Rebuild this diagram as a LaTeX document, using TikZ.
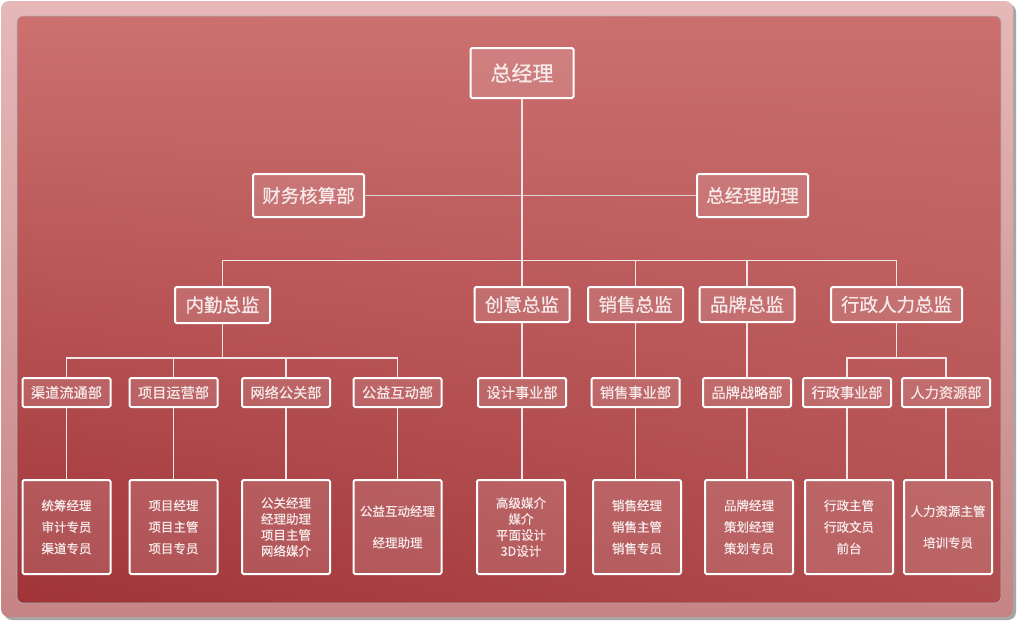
\documentclass[tikz,border=0pt]{standalone}
\usepackage{fontspec}
\newfontfamily\cjk[FakeBold=0.6]{Noto Sans CJK SC}
\usepackage{tikz}
\usetikzlibrary{calc,shadings}
\definecolor{frameTop}{RGB}{230,184,184}
\definecolor{frameBot}{RGB}{198,132,132}
\definecolor{panelUL}{RGB}{204,112,112}
\definecolor{panelUR}{RGB}{202,110,110}
\definecolor{panelLL}{RGB}{160,52,56}
\definecolor{panelLR}{RGB}{176,76,78}
\definecolor{boxText}{RGB}{247,234,234}
\definecolor{linkCol}{RGB}{244,230,230}
\tikzstyle{post} = [draw=white, line width=2pt, rounded corners=1.5pt, fill=white, fill opacity=0.13,
    text opacity=1, text=boxText, inner sep=0pt]

\begin{document}
\begin{tikzpicture}[x=1pt,y=-1pt]

\tikzstyle{boss} = [post, minimum width=103pt, minimum height=50pt, font=\cjk\fontsize{21}{24}\selectfont]
\tikzstyle{aide} = [post, minimum width=111pt, minimum height=43pt, font=\cjk\fontsize{18.5}{22}\selectfont]
\tikzstyle{chief} = [post, minimum width=95pt, minimum height=35pt, font=\cjk\fontsize{18.5}{22}\selectfont]
\tikzstyle{dept} = [post, minimum width=88pt, minimum height=29pt, font=\cjk\fontsize{14.2}{17}\selectfont]
\tikzstyle{staff} = [post, minimum width=88pt, minimum height=94pt, align=center, font=\cjk\fontsize{12.5}{21.5}\selectfont]
\tikzstyle{link} = [draw=linkCol, line width=1.5pt]

\useasboundingbox (0,0) rectangle (1017,621);
\fill[black!35, rounded corners=8pt] (4,4) rectangle (1016,620);
\shade[top color=frameTop, bottom color=frameBot, rounded corners=8pt] (1,1) rectangle (1013,617);
\shade[upper left=panelUL, upper right=panelUR, lower left=panelLL, lower right=panelLR,
    rounded corners=6pt] (17,16) rectangle (1001,603);
\draw[black!30, line width=.6pt, rounded corners=6pt] (17,16) rectangle (1001,603);

\node[boss] (gm) at (522,73) {总经理};
\node[aide] (cw) at (308.5,195.5) {财务核算部};
\node[aide] (zl) at (752.5,195.5) {总经理助理};

\node[chief, minimum height=36pt] (nqzj) at (222.5,305) {内勤总监};
\node[chief] (cyzj) at (522,304.5) {创意总监};
\node[chief] (xszj) at (635.5,304.5) {销售总监};
\node[chief] (ppzj) at (747,304.5) {品牌总监};
\node[chief, minimum width=131pt] (xzzj) at (896.5,304.5) {行政人力总监};

\node[dept] (qd) at (66.5,392.5) {渠道流通部};
\node[dept] (xm) at (173.5,392.5) {项目运营部};
\node[dept] (wl) at (286,392.5) {网络公关部};
\node[dept] (gy) at (397.5,392.5) {公益互动部};
\node[dept] (sj) at (522,392.5) {设计事业部};
\node[dept] (xs) at (635.5,392.5) {销售事业部};
\node[dept] (pp) at (747,392.5) {品牌战略部};
\node[dept] (xz) at (847,392.5) {行政事业部};
\node[dept] (rl) at (946,392.5) {人力资源部};

\node[staff] (qdStaff) at (66.5,527) {统筹经理\\审计专员\\渠道专员};
\node[staff] (xmStaff) at (173.5,527) {项目经理\\项目主管\\项目专员};
\node[staff, font=\cjk\fontsize{12.5}{16}\selectfont] (wlStaff) at (286,527) {公关经理\\经理助理\\项目主管\\网络媒介};
\node[staff, font=\cjk\fontsize{12.5}{31.5}\selectfont] (gyStaff) at (397.5,527) {公益互动经理\\经理助理};
\node[staff, font=\cjk\fontsize{12.5}{16}\selectfont] (sjStaff) at (521,527) {高级媒介\\媒介\\平面设计\\3D设计};
\node[staff] (xsStaff) at (637,527) {销售经理\\销售主管\\销售专员};
\node[staff] (ppStaff) at (749,527) {品牌经理\\策划经理\\策划专员};
\node[staff] (xzStaff) at (849,527) {行政主管\\行政文员\\前台};
\node[staff, font=\cjk\fontsize{12.5}{31.5}\selectfont] (rlStaff) at (948,527) {人力资源主管\\培训专员};

\coordinate (busMid) at (522,260.5);
\coordinate (nqBus) at (222.5,358);
\coordinate (xzBus) at (896.5,358);

\draw[link, line width=1pt, draw=linkCol!80!gray] (cw.east) -- (zl.west);
\draw[link] (gm.south) -- (cyzj.north);
\draw[link] (nqzj.north) |- (busMid) -| (xzzj.north);
\draw[link] (xszj.north) -- (xszj.north |- busMid);
\draw[link] (ppzj.north) -- (ppzj.north |- busMid);

\draw[link] (nqzj.south) -- (nqBus);
\draw[link] (qd.north) |- (nqBus) -| (gy.north);
\draw[link] (xm.north) -- (xm.north |- nqBus);
\draw[link] (wl.north) -- (wl.north |- nqBus);
\draw[link] (xzzj.south) -- (xzBus);
\draw[link] (xz.north) |- (xzBus) -| (rl.north);

\draw[link] (cyzj.south) -- (sj.north);
\draw[link] (xszj.south) -- (xs.north);
\draw[link] (ppzj.south) -- (pp.north);

\draw[link] (qd.south) -- (qd.south |- qdStaff.north);
\draw[link] (xm.south) -- (xm.south |- xmStaff.north);
\draw[link] (wl.south) -- (wl.south |- wlStaff.north);
\draw[link] (gy.south) -- (gy.south |- gyStaff.north);
\draw[link] (sj.south) -- (sj.south |- sjStaff.north);
\draw[link] (xs.south) -- (xs.south |- xsStaff.north);
\draw[link] (pp.south) -- (pp.south |- ppStaff.north);
\draw[link] (xz.south) -- (xz.south |- xzStaff.north);
\draw[link] (rl.south) -- (rl.south |- rlStaff.north);

\end{tikzpicture}
\end{document}
